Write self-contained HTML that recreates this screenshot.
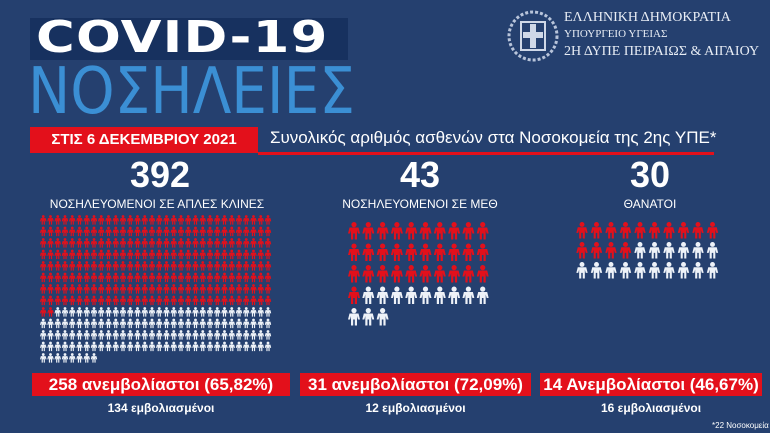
<!DOCTYPE html>
<html><head><meta charset="utf-8">
<style>
html,body{margin:0;padding:0}
body{width:770px;height:433px;background:#25406f;position:relative;overflow:hidden;font-family:"Liberation Sans","DejaVu Sans",sans-serif;color:#fff}
.a{position:absolute;white-space:nowrap}
.box{background:#e3101b;font-weight:bold;text-align:center;color:#fff}
</style></head><body>
<div class="a" style="left:30px;top:18px;width:318px;height:42px;background:#17315f"></div>
<div class="a" style="left:36px;top:12px;font:900 44px 'DejaVu Sans',sans-serif;letter-spacing:1px;transform:scaleX(1.2);transform-origin:left">COVID-19</div>
<div class="a" style="left:28px;top:60px;font:300 64px 'DejaVu Sans Condensed','Liberation Sans Narrow',sans-serif;color:#3b8fd4;transform:scaleX(0.98);transform-origin:left;line-height:64px">ΝΟΣΗΛΕΙΕΣ</div>
<svg class="a" style="left:507px;top:10px" width="52" height="52" viewBox="0 0 52 52"><circle cx="26" cy="26" r="24" fill="none" stroke="#b8c4da" stroke-width="3" stroke-dasharray="3 2"/><rect x="14" y="12" width="24" height="28" fill="none" stroke="#cfd8e8" stroke-width="2"/><rect x="23" y="14" width="6" height="24" fill="#cfd8e8"/><rect x="16" y="22" width="20" height="6" fill="#cfd8e8"/></svg>
<div class="a" style="left:564px;top:10px;font:14px 'Liberation Serif',serif;color:#e8edf5">ΕΛΛΗΝΙΚΗ ΔΗΜΟΚΡΑΤΙΑ</div>
<div class="a" style="left:564px;top:28px;font:11px 'Liberation Serif',serif;color:#e8edf5">ΥΠΟΥΡΓΕΙΟ ΥΓΕΙΑΣ</div>
<div class="a" style="left:564px;top:44px;font:14px 'Liberation Serif',serif;color:#e8edf5">2Η ΔΥΠΕ ΠΕΙΡΑΙΩΣ &amp; ΑΙΓΑΙΟΥ</div>
<div class="a" style="left:258px;top:152px;width:456px;height:3px;background:#e3101b"></div>
<div class="a box" style="left:30px;top:127px;width:228px;height:26px;font-size:15px;line-height:26px">ΣΤΙΣ 6 ΔΕΚΕΜΒΡΙΟΥ 2021</div>
<div class="a" style="left:270px;top:128px;font-size:17px">Συνολικός αριθμός ασθενών στα Νοσοκομεία της 2ης ΥΠΕ*</div>
<div class="a" style="left:110px;top:154px;width:100px;text-align:center;font:bold 36px 'Liberation Sans Narrow','Liberation Sans',sans-serif">392</div>
<div class="a" style="left:380px;top:154px;width:80px;text-align:center;font:bold 36px 'Liberation Sans Narrow','Liberation Sans',sans-serif">43</div>
<div class="a" style="left:610px;top:154px;width:80px;text-align:center;font:bold 36px 'Liberation Sans Narrow','Liberation Sans',sans-serif">30</div>
<div class="a" style="left:40px;top:197px;width:234px;text-align:center;font-size:12px">ΝΟΣΗΛΕΥΟΜΕΝΟΙ ΣΕ ΑΠΛΕΣ ΚΛΙΝΕΣ</div>
<div class="a" style="left:330px;top:197px;width:180px;text-align:center;font-size:12px">ΝΟΣΗΛΕΥΟΜΕΝΟΙ ΣΕ ΜΕΘ</div>
<div class="a" style="left:600px;top:197px;width:100px;text-align:center;font-size:12px">ΘΑΝΑΤΟΙ</div>
<svg id="s" class="a" style="left:0;top:0" width="770" height="433">
<defs><symbol id="p" viewBox="0 0 12 18"><circle cx="6" cy="2.6" r="2.6"/><path d="M1.5 5.5h9l1.5 6h-2l-1-3.5v9.5h-2.2v-6h-1.6v6H3V8l-1 3.5H0z"/></symbol></defs>
</svg>
<div class="a box" style="left:32px;top:373px;width:258px;height:23px;font-size:17px;line-height:23px">258 ανεμβολίαστοι (65,82%)</div>
<div class="a box" style="left:300px;top:373px;width:231px;height:23px;font-size:17px;line-height:23px">31 ανεμβολίαστοι (72,09%)</div>
<div class="a box" style="left:540px;top:373px;width:222px;height:23px;font-size:17px;line-height:23px">14 Ανεμβολίαστοι (46,67%)</div>
<div class="a" style="left:32px;top:401px;width:258px;text-align:center;font-weight:bold;font-size:12px">134 εμβολιασμένοι</div>
<div class="a" style="left:300px;top:401px;width:231px;text-align:center;font-weight:bold;font-size:12px">12 εμβολιασμένοι</div>
<div class="a" style="left:540px;top:401px;width:222px;text-align:center;font-weight:bold;font-size:12px">16 εμβολιασμένοι</div>
<div class="a" style="left:712px;top:421px;font-size:8px">*22 Νοσοκομεία</div>
<script>
var s=document.getElementById('s'),h='';
function grid(x0,y0,dx,dy,cols,red,tot,w,hh){for(var i=0;i<tot;i++){var c=i%cols,r=Math.floor(i/cols);h+='<use href="#p" x="'+(x0+c*dx)+'" y="'+(y0+r*dy)+'" width="'+w+'" height="'+hh+'" fill="'+(i<red?'#e3101b':'#eef2f8')+'"/>';}}
grid(40,215,7.25,11.5,32,258,392,6.5,10);
grid(348,222,14.3,21.5,10,31,43,12,18);
grid(576,222,14.5,20,10,14,30,12,17);
s.insertAdjacentHTML('beforeend',h);
</script>
</body></html>
